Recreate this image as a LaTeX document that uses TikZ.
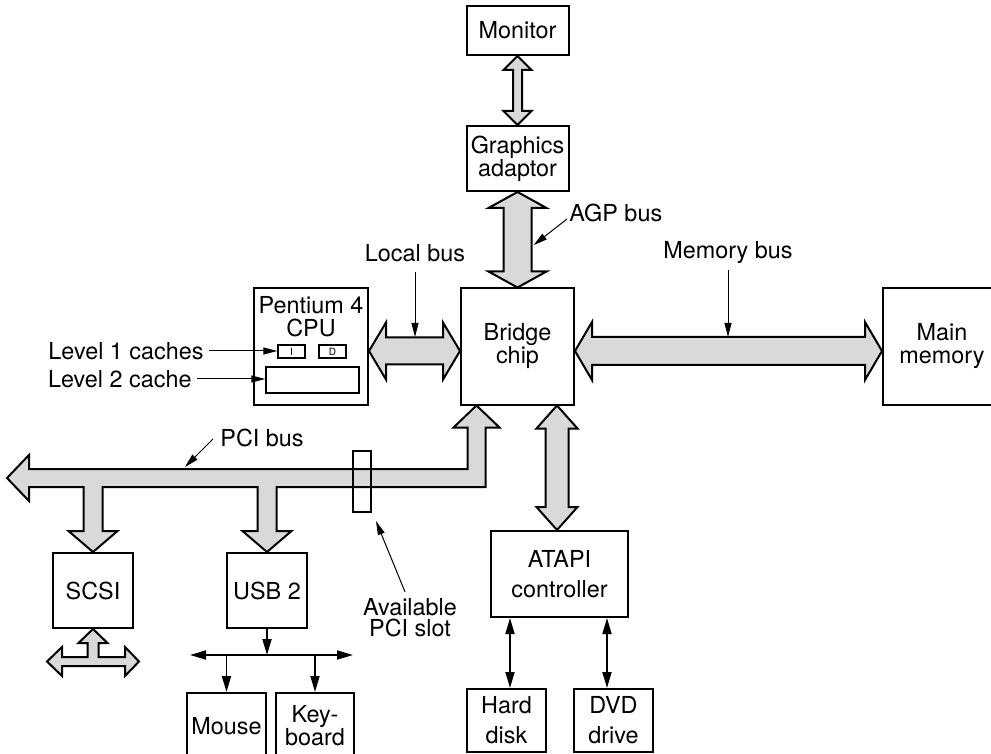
\documentclass[tikz,border=0pt]{standalone}
\usepackage{fontspec}
\setmainfont{TeX Gyre Heros}
\usetikzlibrary{arrows.meta,positioning,calc}

% fat double-headed buses: {from}{to}{shaft half}{head half}{head length}
\newcommand{\vbus}[5]{%
  \draw[bus] (#1) -- ++(#4,#5) -- ++(#3-#4,0) -- ($(#2)+(#3,-#5)$) -- ++(#4-#3,0)
    -- (#2) -- ++(-#4,-#5) -- ++(#4-#3,0) -- ($(#1)+(-#3,#5)$) -- ++(#3-#4,0) -- cycle;}
\newcommand{\hbus}[5]{%
  \draw[bus] (#1) -- ++(#5,-#4) -- ++(0,#4-#3) -- ($(#2)+(-#5,-#3)$) -- ++(0,#3-#4)
    -- (#2) -- ++(-#5,#4) -- ++(0,#3-#4) -- ($(#1)+(#5,#3)$) -- ++(0,#4-#3) -- cycle;}

\begin{document}
\begin{tikzpicture}[
    x=0.5pt, y=-0.5pt,
    font=\fontsize{11.7}{11.5}\selectfont,
    box/.style={rectangle, draw, line width=1pt, fill=white, inner sep=0pt, align=center},
    cache/.style={rectangle, draw, line width=0.7pt, inner sep=0pt, font=\fontsize{5}{6}\selectfont},
    bus/.style={draw, line width=1pt, fill=black!15, line join=miter},
    conn/.style={-{Triangle[length=8pt,width=4.5pt]}, line width=0.9pt},
    dconn/.style={{Triangle[length=8pt,width=4.5pt]}-{Triangle[length=8pt,width=4.5pt]}, line width=0.9pt},
    pointer/.style={-{Triangle[length=7pt,width=3.5pt]}, line width=0.5pt},
    lbl/.style={inner sep=0pt, align=center}
]
\useasboundingbox (0,0) rectangle (991,754);
\clip (0,0) rectangle (991,754);

% boxes
\node[box, minimum width=51pt, minimum height=24.5pt] (monitor) at (517.5,30.5) {Monitor};
\node[box, minimum width=51pt, minimum height=32.5pt] (graphics) at (517.5,158.5) {Graphics\\adaptor};
\node[box, minimum width=56.5pt, minimum height=58pt] (bridge) at (517.5,346.5) {Bridge\\chip};
\node[box, minimum width=57pt, minimum height=58.5pt] (cpu) at (311,346.5) {};
\node[lbl] (cpulabel) at (311,316.5) {Pentium 4\\CPU};
\node[cache, minimum width=13.5pt, minimum height=6.5pt] (icache) at (291.5,351.5) {I};
\node[cache, minimum width=13.5pt, minimum height=6.5pt] (dcache) at (332.5,351.5) {D};
\node[cache, minimum width=46.5pt, minimum height=13pt] (l2cache) at (312.5,380) {};
\node[box, minimum width=59pt, minimum height=58.5pt] (mainmem) at (942,346.5) {Main\\memory};
\node[box, minimum width=40pt, minimum height=37.5pt] (scsi) at (93,590.5) {SCSI};
\node[box, minimum width=40pt, minimum height=37.5pt] (usb) at (267,590.5) {USB 2};
\node[box, minimum width=68.5pt, minimum height=43pt, font=\fontsize{11.7}{15}\selectfont] (atapi) at (559.5,574) {ATAPI\\controller};
\node[box, minimum width=39.5pt, minimum height=31.5pt, font=\fontsize{11.7}{15}\selectfont] (hard) at (506.5,720.5) {Hard\\disk};
\node[box, minimum width=39.5pt, minimum height=31.5pt, font=\fontsize{11.7}{15}\selectfont] (dvd) at (613.5,720.5) {DVD\\drive};
\node[box, minimum width=39.5pt, minimum height=33pt] (mouse) at (226.5,726) {Mouse};
\node[box, minimum width=39pt, minimum height=33pt] (keyboard) at (315,726) {Key-\\board};

% buses
\coordinate (lbL) at ($(cpu.east)+(0,4.5)$);
\coordinate (lbR) at ($(bridge.west)+(0,4.5)$);
\coordinate (mbL) at ($(bridge.east)+(0,4.5)$);
\coordinate (mbR) at ($(mainmem.west)+(0,4.5)$);
\coordinate (atT) at ($(bridge.south)+(39.5,0)$);
\coordinate (atB) at (atT |- atapi.north);
\vbus{monitor.south}{graphics.north}{4.5}{14}{14}
\vbus{graphics.south}{bridge.north}{14}{29}{16}
\hbus{lbL}{lbR}{13.5}{28.5}{17}
\hbus{mbL}{mbR}{14}{29}{17}
\vbus{atT}{atB}{11.5}{20.5}{23}

% PCI bus
\coordinate (pciL) at (7,478);
\coordinate (pciT) at ($(bridge.south west)+(16.5,0)$);
\draw[bus] (pciT) -- ++(23,22) -- ++(-14,0)
  -- ($(pciT |- pciL)+(9,9)$)
  -- ($(usb.north |- pciL)+(9.5,9)$)
  -- ($(usb.north)+(9.5,-21)$) -- ++(15,0) -- (usb.north) -- ++(-24.5,-21) -- ++(15,0)
  -- ($(usb.north |- pciL)+(-9.5,9)$)
  -- ($(scsi.north |- pciL)+(9.5,9)$)
  -- ($(scsi.north)+(9.5,-21)$) -- ++(15,0) -- (scsi.north) -- ++(-24.5,-21) -- ++(15,0)
  -- ($(scsi.north |- pciL)+(-9.5,9)$)
  -- ($(pciL)+(22,9)$) -- ++(0,14) -- (pciL) -- ++(22,-23) -- ++(0,14)
  -- ($(pciT |- pciL)+(-9,-9)$) -- ($(pciT)+(-9,22)$) -- ++(-14,0) -- cycle;
\node[draw, line width=1pt, inner sep=0pt, minimum width=9pt, minimum height=30.5pt] (slot) at (362,481.5) {};

% SCSI bus
\draw[bus] (scsi.south) -- ++(14.5,14) -- ++(-9,0) -- ++(0,14) -- ++(26.5,0) -- ++(0,-10)
  -- ++(14,14.5) -- ++(-14,14.5) -- ++(0,-10) -- ++(-63,0) -- ++(0,10) -- ++(-15,-14.5)
  -- ++(15,-14.5) -- ++(0,10) -- ++(25.5,0) -- ++(0,-14) -- ++(-9,0) -- cycle;

% USB lines
\coordinate (ubL) at (190,655);
\coordinate (ubR) at (353,655);
\draw[conn] (usb.south) -- (usb.south |- ubL);
\draw[dconn] (ubL) -- (ubR);
\draw[conn] (mouse.north |- ubL) -- (mouse.north);
\draw[conn] (keyboard.north |- ubL) -- (keyboard.north);

% ATAPI lines
\coordinate (hdx) at ($(hard.north)+(3.5,0)$);
\coordinate (dvx) at ($(dvd.north)+(-6.5,0)$);
\draw[dconn] (hdx |- atapi.south) -- (hdx);
\draw[dconn] (dvx |- atapi.south) -- (dvx);

% labels
\node[lbl] (localbus) at (415,253) {Local bus};
\node[lbl] (membus) at (728,253) {Memory bus};
\node[lbl, anchor=west] (agpbus) at (569,213) {AGP bus};
\node[lbl, anchor=west] (pcibus) at (220,438) {PCI bus};
\node[lbl, font=\fontsize{11.7}{10.5}\selectfont] (slotlbl) at (410,617.5) {Available\\PCI slot};
\node[lbl, anchor=east, inner xsep=2.5pt] (l1lbl) at (209,351) {Level 1 caches};
\node[lbl, anchor=east, inner xsep=2.5pt] (l2lbl) at (197,379) {Level 2 cache};

\draw[pointer] ($(localbus.south)+(0,10)$) -- ($(localbus.south |- lbL)+(0,-14)$);
\draw[pointer] ($(membus.south)+(0,6)$) -- ($(membus.south |- mbL)+(0,-14)$);
\draw[pointer] ($(agpbus.west)+(-2,6)$) -- ($(graphics.south)!0.557!(bridge.north)+(16,0)$);
\draw[pointer] ($(pcibus.west)+(-7,1)$) -- ($(pciL)+(178,-11)$);
\draw[pointer] ($(slotlbl.north)+(-5,-6)$) -- ($(slot.south east)+(4,8)$);
\draw[pointer] (l1lbl.east) -- (l1lbl.east -| icache.west);
\draw[pointer] (l2lbl.east) -- (l2lbl.east -| l2cache.west);
\end{tikzpicture}
\end{document}
